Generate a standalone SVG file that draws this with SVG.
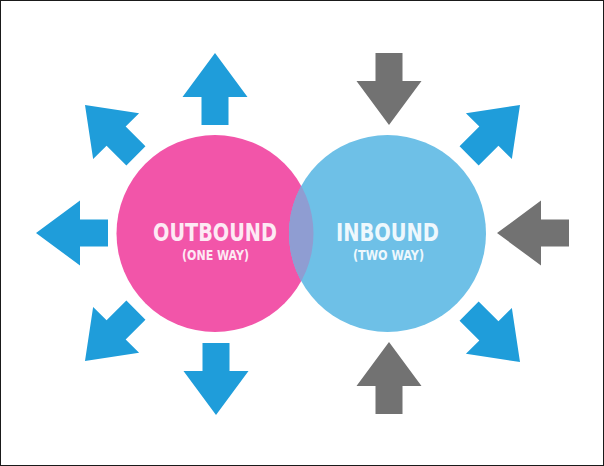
<svg xmlns="http://www.w3.org/2000/svg" width="604" height="466" viewBox="0 0 604 466">
  <defs>
    <style>
      .blue { fill: #1f9dda; }
      .grey { fill: #727272; }
      .t1 { font-family: "Liberation Sans Narrow", "DejaVu Sans Condensed", "Liberation Sans", sans-serif; font-weight: bold; font-size: 25px; text-anchor: middle; }
      .t2 { font-family: "Liberation Sans Narrow", "DejaVu Sans Condensed", "Liberation Sans", sans-serif; font-weight: bold; font-size: 14px; text-anchor: middle; }
    </style>
    <polygon id="arrow" points="0,0 32.5,44 13.5,44 13.5,72 -13.5,72 -13.5,44 -32.5,44"/>
    <clipPath id="pinkClip">
      <circle cx="215" cy="233.5" r="98.5"/>
    </clipPath>
  </defs>
  <rect x="0" y="0" width="604" height="466" fill="#ffffff" stroke="#1a1a1a" stroke-width="2"/>

  <g id="connectors">
    <use href="#arrow" class="blue" transform="translate(215,53)"/>
    <use href="#arrow" class="blue" transform="translate(85,105) rotate(-45)"/>
    <use href="#arrow" class="blue" transform="translate(36,233) rotate(-90)"/>
    <use href="#arrow" class="blue" transform="translate(85,361) rotate(-135)"/>
    <use href="#arrow" class="blue" transform="translate(216,415) rotate(180)"/>
    <use href="#arrow" class="blue" transform="translate(520,105) rotate(45)"/>
    <use href="#arrow" class="blue" transform="translate(520,362) rotate(135)"/>
    <use href="#arrow" class="grey" transform="translate(389,125) rotate(180)"/>
    <use href="#arrow" class="grey" transform="translate(497,233) rotate(-90)"/>
    <use href="#arrow" class="grey" transform="translate(389,342)"/>
  </g>

  <g id="outbound">
    <circle cx="215" cy="233.5" r="98.5" fill="#f255a9"/>
  </g>
  <g id="inbound">
    <circle cx="387.5" cy="233.5" r="98.5" fill="#6ec0e7"/>
    <circle cx="387.5" cy="233.5" r="98.5" fill="#8f9dd2" clip-path="url(#pinkClip)"/>
  </g>
  <g id="labels">
    <text class="t1" x="215" y="241" fill="#fdeaf4" textLength="124" lengthAdjust="spacingAndGlyphs">OUTBOUND</text>
    <text class="t2" x="215.5" y="260" fill="#fdeaf4" textLength="67" lengthAdjust="spacingAndGlyphs">(ONE WAY)</text>
    <text class="t1" x="387.5" y="241" fill="#eef8fd" textLength="103" lengthAdjust="spacingAndGlyphs">INBOUND</text>
    <text class="t2" x="388.5" y="260" fill="#eef8fd" textLength="71" lengthAdjust="spacingAndGlyphs">(TWO WAY)</text>
  </g>
</svg>
